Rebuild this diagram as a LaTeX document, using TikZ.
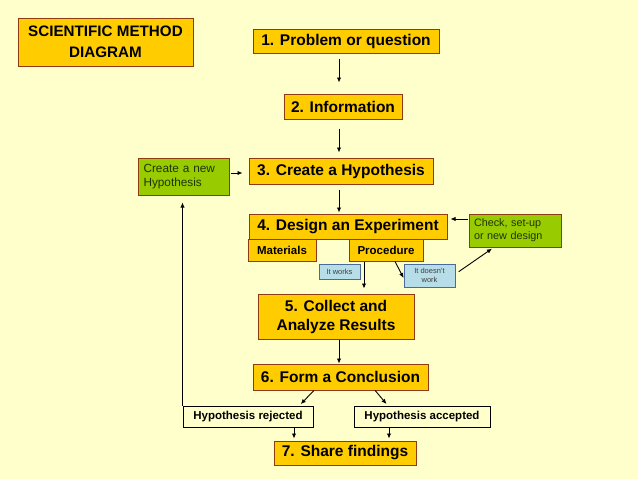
\documentclass[tikz,border=0pt]{standalone}
\usepackage{fontspec}
\setmainfont{Liberation Sans}
\usetikzlibrary{arrows.meta,calc}
\definecolor{bg}{HTML}{FFFFCC}
\definecolor{orng}{HTML}{FFCC00}
\definecolor{brd}{HTML}{8E3A12}
\definecolor{grn}{HTML}{99CC00}
\definecolor{lblue}{HTML}{B7DDE8}
\definecolor{bblue}{HTML}{4A6A9A}
\definecolor{gtext}{HTML}{1F3300}
\begin{document}
\begin{tikzpicture}[x=1pt,y=-1pt,
  obox/.style={draw=brd, line width=1pt, fill=orng, inner sep=0pt, align=center, text=black,
    font=\bfseries\fontsize{15.5}{19}\selectfont},
  sobox/.style={obox, font=\bfseries\fontsize{11.5}{14}\selectfont},
  gbox/.style={draw=brd, line width=1pt, fill=grn, inner sep=0pt, align=left, text=gtext},
  bbox/.style={draw=bblue, line width=0.8pt, fill=lblue, inner sep=0pt, align=center, text=black!75,
    font=\fontsize{7.5}{9}\selectfont},
  ybox/.style={draw=black, line width=1pt, fill=bg, inner sep=0pt, align=center, text=black,
    font=\bfseries\fontsize{11.5}{14}\selectfont},
  arr/.style={draw=black, line width=0.9pt, -{Latex[length=5pt,width=4.5pt]}}
]
\fill[bg] (0,0) rectangle (638,479);
\useasboundingbox (0,0) rectangle (638,479);

% nodes
\node[obox, minimum width=175pt, minimum height=48pt, font=\bfseries\fontsize{15.2}{20.5}\selectfont] (title) at (105.5,42) {SCIENTIFIC METHOD\\DIAGRAM};
\node[obox, minimum width=186pt, minimum height=24pt] (p1) at (346,41) {1. Problem or question};
\node[obox, minimum width=118pt, minimum height=25pt] (p2) at (343,106.5) {2. Information};
\node[obox, minimum width=184pt, minimum height=26pt] (p3) at (341,171) {3. Create a Hypothesis};
\node[gbox, minimum width=91pt, minimum height=37pt, text width=80pt, font=\fontsize{11.8}{14}\selectfont] (newhyp) at (183.5,176.5) {Create a new\\Hypothesis};
\node[obox, minimum width=198pt, minimum height=25pt] (p4) at (348,226.5) {4. Design an Experiment};
\node[sobox, minimum width=68pt, minimum height=22pt] (mat) at (282,250) {Materials};
\node[sobox, minimum width=74pt, minimum height=22pt] (proc) at (386,250) {Procedure};
\node[gbox, minimum width=92pt, minimum height=33pt, text width=82pt, font=\fontsize{10.8}{13}\selectfont] (check) at (515,230.5) {Check, set-up\\or new design};
\node[bbox, minimum width=41pt, minimum height=15pt] (works) at (339.5,271.5) {It works};
\node[bbox, minimum width=51pt, minimum height=23pt] (doesnt) at (429.5,275.5) {It doesn't\\work};
\node[obox, minimum width=156pt, minimum height=45pt] (p5) at (336,316.5) {5. Collect and\\Analyze Results};
\node[obox, minimum width=175pt, minimum height=26pt] (p6) at (340.5,377) {6. Form a Conclusion};
\node[ybox, minimum width=130pt, minimum height=21pt] (rej) at (248,416.5) {Hypothesis rejected};
\node[ybox, minimum width=136pt, minimum height=21pt] (acc) at (422,416.5) {Hypothesis accepted};
\node[obox, minimum width=142pt, minimum height=24pt] (p7) at (345,453) {7. Share findings};

% column / row guides
\coordinate (cx) at (339,0);
\coordinate (cproc) at (364,0);
\coordinate (crej) at (294,0);
\coordinate (cacc) at (389,0);
\coordinate (r3) at (0,173);
\coordinate (r4) at (0,219);

% connectors
\draw[arr, shorten <=5pt, shorten >=11pt] (p1.south -| cx) -- (p2.north -| cx);
\draw[arr, shorten <=9pt, shorten >=5pt] (p2.south -| cx) -- (p3.north -| cx);
\draw[arr, shorten <=5pt, shorten >=1pt] (p3.south -| cx) -- (p4.north -| cx);
\draw[arr, shorten <=1pt, shorten >=6pt] (newhyp.east |- r3) -- (p3.west |- r3);
\draw[arr, shorten <=1pt, shorten >=3pt] (check.west |- r4) -- (p4.east |- r4);
\draw[arr, shorten >=5pt] (proc.south -| cproc) -- (p5.north -| cproc);
\draw[arr] ($(proc.south west)!0.62!(proc.south east)$) -- ($(doesnt.west)+(0,2.5)$);
\draw[arr, shorten <=4pt, shorten >=2pt] ($(doesnt.east)+(0,-1.5)$) -- ($(check.south west)!0.27!(check.south east)$);
\draw[arr] (p5.south -| cx) -- (p6.north -| cx);
\draw[arr, shorten >=2pt] ($(p6.south west)!0.349!(p6.south east)$) -- ($(rej.north west)!0.892!(rej.north east)$);
\draw[arr, shorten >=2pt] ($(p6.south west)!0.697!(p6.south east)$) -- ($(acc.north west)!0.25!(acc.north east)$);
\draw[arr, shorten >=2pt] (rej.south -| crej) -- (p7.north -| crej);
\draw[arr, shorten >=2pt] (acc.south -| cacc) -- (p7.north -| cacc);
\draw[arr, shorten >=7pt] (rej.north west) -- (rej.north west |- newhyp.south);
\end{tikzpicture}
\end{document}
